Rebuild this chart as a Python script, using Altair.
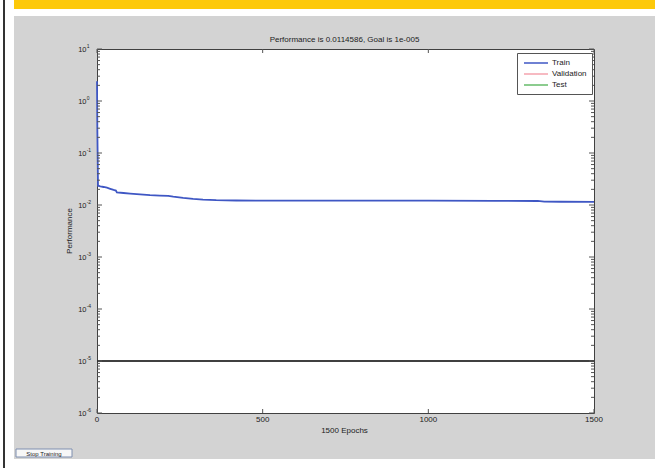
import altair as alt
import pandas as pd

# ---- data ----
epochs = [0, 1, 3, 10, 20, 30, 40, 50, 57, 60, 80, 100, 130, 160, 190, 215, 230, 260, 290, 320,
          360, 420, 600, 800, 1000, 1200, 1330, 1350, 1400, 1500]
train_perf = [2.4, 0.3, 0.0235, 0.0228, 0.0222, 0.0215, 0.0205, 0.0195, 0.0190, 0.0175,
              0.0170, 0.0166, 0.0160, 0.0155, 0.0152, 0.0150, 0.0145, 0.0137, 0.0131, 0.0127,
              0.0124, 0.0122, 0.01215, 0.0121, 0.0121, 0.01205, 0.01195, 0.0116, 0.01155, 0.0114586]
goal = [1e-5]

series_names = ["Train", "Validation", "Test"]
series_colors = ["#3f57c4", "#f5a3ae", "#66bb6a"]

x_ticks = [0, 500, 1000, 1500]
decades = [1e-6, 1e-5, 1e-4, 1e-3, 1e-2, 1e-1, 1e0, 1e1]
exponents = ["-6", "-5", "-4", "-3", "-2", "-1", "0", "1"]
minor_mults = [2, 3, 4, 5, 6, 7, 8, 9]

title_text = "Performance is 0.0114586, Goal is 1e-005"
x_title = "1500 Epochs"
y_title = "Performance"

W, H = 497, 364
FONT = "Liberation Sans"
TXT = "#222222"

train_df = pd.DataFrame({"epoch": epochs, "perf": train_perf, "series": ["Train"] * len(epochs)})
goal_df = pd.DataFrame({"goal": goal})
major_df = pd.DataFrame({"v": decades, "base": ["10"] * len(decades), "exp": exponents})
minor_df = pd.DataFrame({"v": [m * d for d in decades[:-1] for m in minor_mults]})
xt_df = pd.DataFrame({"t": x_ticks, "lab": [str(t) for t in x_ticks]})
one = pd.DataFrame({"k": [0]})

xscale = alt.Scale(domain=[0, 1500], nice=False, zero=False)
yscale = alt.Scale(type="log", domain=[1e-6, 10], nice=False)

# ---- window decoration (outside the plot area) ----
def deco(x1, x2, y1, y2, color):
    return alt.Chart(one).mark_rect(color=color).encode(
        x=alt.value(x1), x2=alt.value(x2), y=alt.value(y1), y2=alt.value(y2))

L, T = 97, 49
deco_layers = [
    deco(-L, 14 - L, -T, 468 - T, "white"),
    deco(14 - L, 655 - L, -T, 16 - T, "white"),
    deco(14 - L, 655 - L, -T, 9 - T, "#fdc90a"),
    deco(14 - L, 655 - L, 459 - T, 468 - T, "white"),
    deco(3 - L, 5 - L, -T, 468 - T, "#333333"),
]
button = alt.Chart(one).mark_rect(fill="#f7f7f7", stroke="#7f8fb0", strokeWidth=1).encode(
    x=alt.value(16 - L), x2=alt.value(72 - L), y=alt.value(449 - T), y2=alt.value(457 - T))
button_text = alt.Chart(one).mark_text(fontSize=6, font=FONT, color=TXT).encode(
    x=alt.value(44 - L), y=alt.value(453.5 - T), text=alt.value("Stop Training"))

# ---- titles ----
title_mark = alt.Chart(one).mark_text(fontSize=8, font=FONT, color=TXT, baseline="middle").encode(
    x=alt.value(W / 2 - 1), y=alt.value(-9), text=alt.value(title_text))
xtitle_mark = alt.Chart(one).mark_text(fontSize=8, font=FONT, color=TXT, baseline="middle").encode(
    x=alt.value(W / 2 - 1), y=alt.value(H + 18), text=alt.value(x_title))
ytitle_mark = alt.Chart(one).mark_text(fontSize=8, font=FONT, color=TXT, baseline="middle",
                                       angle=270).encode(
    x=alt.value(-27), y=alt.value(H / 2), text=alt.value(y_title))

# ---- data marks ----
train = alt.Chart(train_df).mark_line(strokeWidth=1.8, interpolate="linear").encode(
    x=alt.X("epoch:Q", scale=xscale, axis=None),
    y=alt.Y("perf:Q", scale=yscale, axis=None),
    color=alt.Color("series:N", scale=alt.Scale(domain=series_names, range=series_colors),
                    legend=alt.Legend(title=None, orient="none", legendX=420, legendY=4,
                                      fillColor="white", strokeColor="#555", padding=5,
                                      labelFontSize=8, labelFont=FONT, labelColor=TXT,
                                      symbolType="M-3,0H3", symbolSize=64, symbolStrokeWidth=1.5,
                                      symbolOffset=9, labelOffset=11, rowPadding=2)),
)

goal_line = alt.Chart(goal_df).mark_rule(color="black", strokeWidth=1.5).encode(
    y=alt.Y("goal:Q", scale=yscale, axis=None))

TICK = "#555555"
ymaj_l = alt.Chart(major_df).mark_rule(color=TICK, strokeWidth=1).encode(
    y=alt.Y("v:Q", scale=yscale, axis=None), x=alt.value(0), x2=alt.value(5))
ymaj_r = alt.Chart(major_df).mark_rule(color=TICK, strokeWidth=1).encode(
    y=alt.Y("v:Q", scale=yscale, axis=None), x=alt.value(W - 5), x2=alt.value(W))
ymin_l = alt.Chart(minor_df).mark_rule(color=TICK, strokeWidth=1).encode(
    y=alt.Y("v:Q", scale=yscale, axis=None), x=alt.value(0), x2=alt.value(3))
ymin_r = alt.Chart(minor_df).mark_rule(color=TICK, strokeWidth=1).encode(
    y=alt.Y("v:Q", scale=yscale, axis=None), x=alt.value(W - 3), x2=alt.value(W))
xt_b = alt.Chart(xt_df).mark_rule(color=TICK, strokeWidth=1).encode(
    x=alt.X("t:Q", scale=xscale, axis=None), y=alt.value(H - 4), y2=alt.value(H))
xt_t = alt.Chart(xt_df).mark_rule(color=TICK, strokeWidth=1).encode(
    x=alt.X("t:Q", scale=xscale, axis=None), y=alt.value(0), y2=alt.value(4))
xlab = alt.Chart(xt_df).mark_text(fontSize=8, font=FONT, color=TXT, baseline="middle").encode(
    x=alt.X("t:Q", scale=xscale, axis=None), y=alt.value(H + 7), text="lab:N")

ylab_base = alt.Chart(major_df).mark_text(fontSize=7.5, font=FONT, color=TXT, align="right",
                                          baseline="middle", dy=1).encode(
    y=alt.Y("v:Q", scale=yscale, axis=None), x=alt.value(-10.5), text="base:N")
ylab_exp = alt.Chart(major_df).mark_text(fontSize=5, font=FONT, color=TXT, align="left",
                                         baseline="middle", dy=-3).encode(
    y=alt.Y("v:Q", scale=yscale, axis=None), x=alt.value(-10.3), text="exp:N")

layers = deco_layers + [button, button_text, title_mark, xtitle_mark, ytitle_mark,
                        train, goal_line, ymaj_l, ymaj_r, ymin_l, ymin_r,
                        xt_b, xt_t, xlab, ylab_base, ylab_exp]

chart = alt.layer(*layers).properties(
    width=W, height=H,
    padding={"left": 97, "top": 49, "right": 61, "bottom": 55},
    autosize=alt.AutoSizeParams(type="none"),
    background="#d3d3d3",
).configure_view(fill="white", stroke="#404040", strokeWidth=1)

chart.save("out.html", embed_options={"renderer": "svg", "actions": False})
